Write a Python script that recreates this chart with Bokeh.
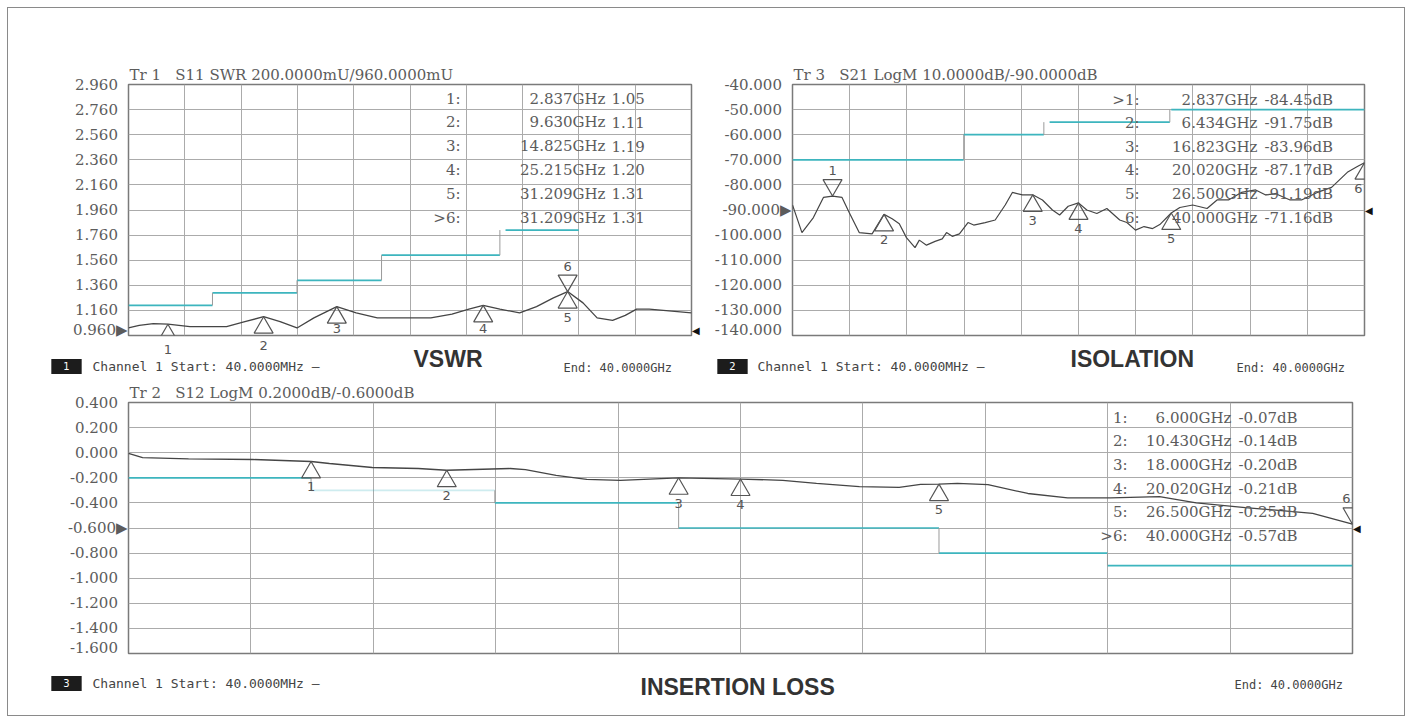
import numpy as np
from bokeh.plotting import figure
from bokeh.models import Range1d, FixedTicker, PrintfTickFormatter, Label, LinearAxis
from bokeh.layouts import column, row
from bokeh.embed import file_html
from bokeh.resources import INLINE

# ---------------- data ----------------
F_START, F_STOP = 0.04, 40.0

# Panel 1: VSWR (S11)
vswr_ticks = [2.96, 2.76, 2.56, 2.36, 2.16, 1.96, 1.76, 1.56, 1.36, 1.16, 0.96]
vswr_f = [0.04, 0.8, 1.8, 2.837, 4.4, 5.6, 7.0, 8.3, 9.63, 10.8, 12.0, 13.2, 14.825, 16.2,
          17.7, 19.5, 21.5, 23.0, 24.2, 25.215, 26.4, 27.8, 29.0, 30.2, 31.209, 32.3, 33.3,
          34.4, 35.3, 36.1, 37.0, 38.0, 39.0, 40.0]
vswr_v = [1.02, 1.04, 1.055, 1.05, 1.03, 1.03, 1.03, 1.07, 1.11, 1.07, 1.02, 1.10, 1.19, 1.14,
          1.10, 1.10, 1.10, 1.13, 1.17, 1.20, 1.17, 1.14, 1.19, 1.26, 1.31, 1.22, 1.10,
          1.08, 1.12, 1.17, 1.17, 1.16, 1.15, 1.14]
vswr_lim_f0 = [0.04, 6.0, 12.0, 18.0, 26.8]
vswr_lim_f1 = [6.0, 12.0, 18.0, 26.4, 32.0]
vswr_lim_v = [1.2, 1.3, 1.4, 1.6, 1.8]
vswr_mk_name = ["1:", "2:", "3:", "4:", "5:", ">6:"]
vswr_mk_f = [2.837, 9.630, 14.825, 25.215, 31.209, 31.209]
vswr_mk_v = [1.05, 1.11, 1.19, 1.20, 1.31, 1.31]
vswr_active = 5
vswr_ref = 0.96

# Panel 2: Isolation (S21)
iso_ticks = [-40.0, -50.0, -60.0, -70.0, -80.0, -90.0, -100.0, -110.0, -120.0, -130.0, -140.0]
iso_f = [0.04, 0.7, 1.5, 2.2, 2.837, 3.5, 4.0, 4.7, 5.6, 6.434, 7.0, 7.5, 8.0, 8.6, 8.9,
         9.4, 10.0, 10.5, 10.8, 11.2, 11.7, 12.3, 12.7, 13.5, 14.2, 14.9, 15.4, 16.1, 16.823,
         17.5, 18.2, 18.7, 19.3, 20.02, 20.6, 21.3, 22.0, 22.9, 23.4, 24.0, 24.6, 25.2, 25.7,
         26.5, 27.1, 28.0, 29.0, 29.7, 30.5, 31.4, 32.4, 33.1, 33.8, 34.8, 35.6, 36.7, 37.7,
         38.8, 39.5, 40.0]
iso_v = [-88, -99, -93, -85, -84.45, -85, -91, -99, -99.5, -91.75, -93.5, -95.5, -101, -105,
         -102, -104, -102.5, -101.5, -99, -100.5, -99.5, -95, -96, -95, -94, -88, -83, -84,
         -83.96, -86, -90, -92, -88.5, -87.17, -90, -91.4, -89.4, -94, -95, -98, -96.6, -97.4,
         -95.8, -91.19, -89, -88, -89.4, -86, -86, -83, -82, -84, -83.5, -86, -86, -83, -81,
         -75, -72.7, -71.16]
iso_lim_f0 = [0.04, 12.0, 18.0, 26.5]
iso_lim_f1 = [12.0, 17.6, 26.4, 40.0]
iso_lim_v = [-70, -60, -55, -50]
iso_mk_name = [">1:", "2:", "3:", "4:", "5:", "6:"]
iso_mk_f = [2.837, 6.434, 16.823, 20.020, 26.500, 40.000]
iso_mk_v = [-84.45, -91.75, -83.96, -87.17, -91.19, -71.16]
iso_active = 0
iso_ref = -90.0

# Panel 3: Insertion loss (S12)
il_ticks = [0.4, 0.2, 0.0, -0.2, -0.4, -0.6, -0.8, -1.0, -1.2, -1.4, -1.6]
il_f = [0.04, 0.5, 2.0, 4.1, 6.0, 6.6, 8.0, 9.5, 10.43, 12.5, 13.0, 14.0, 15.0, 16.1, 18.0,
        20.02, 21.4, 22.5, 23.9, 25.2, 25.9, 26.5, 27.1, 28.1, 29.4, 30.7, 32.1, 33.7, 34.9,
        36.5, 38.7, 40.0]
il_v = [-0.005, -0.04, -0.05, -0.054, -0.07, -0.086, -0.118, -0.126, -0.14, -0.126, -0.135,
        -0.18, -0.213, -0.22, -0.20, -0.21, -0.22, -0.245, -0.27, -0.277, -0.253, -0.25,
        -0.245, -0.255, -0.325, -0.36, -0.36, -0.35, -0.40, -0.437, -0.484, -0.57]
il_lim_f0 = [0.04, 6.0, 12.0, 18.0, 26.5, 32.0]
il_lim_f1 = [6.0, 12.0, 18.0, 26.5, 32.0, 40.0]
il_lim_v = [-0.2, -0.3, -0.4, -0.6, -0.8, -0.9]
il_lim_alpha = [1.0, 0.25, 1.0, 1.0, 1.0, 1.0]
il_mk_name = ["1:", "2:", "3:", "4:", "5:", ">6:"]
il_mk_f = [6.000, 10.430, 18.000, 20.020, 26.500, 40.000]
il_mk_v = [-0.07, -0.14, -0.20, -0.21, -0.25, -0.57]
il_active = 5
il_ref = -0.6

# ---------------- style ----------------
SERIF = "DejaVu Serif"
SANS = "DejaVu Sans"
MONO = "DejaVu Sans Mono"
BOLD = "Liberation Sans"
GRID = "#ababab"
TXT = "#5c5c5c"
TRACE = "#454545"
LIMIT = "#3db5be"
MK = "#555555"
TRI = 19
TRI_H = TRI / 2 * np.sqrt(3)
TRI_C = 2 * TRI_H / 3
NB = "\u00a0"


def make_panel(g, fig_left, fig_top, fig_right, fig_bottom, ticks, ref, title):
    L, T, W, H, y0, y1 = g["L"], g["T"], g["W"], g["H"], g["y0"], g["y1"]
    p = figure(frame_width=W, frame_height=H,
               x_range=Range1d(F_START, F_STOP), y_range=Range1d(y0, y1),
               toolbar_location=None, tools="", output_backend="svg", title=title,
               frame_align=False)
    p.min_border = 0
    p.min_border_left = L - fig_left
    p.min_border_top = T - fig_top
    p.min_border_right = fig_right - (L + W)
    p.min_border_bottom = fig_bottom - (T + H)
    p.title.align = "left"
    p.title.offset = 1
    p.title.standoff = 2
    p.title.text_font = SERIF
    p.title.text_font_size = "15px"
    p.title.text_font_style = "normal"
    p.title.text_color = TXT
    p.xaxis.visible = False
    p.xgrid.ticker = FixedTicker(ticks=list(np.linspace(F_START, F_STOP, 11)))
    p.ygrid.ticker = FixedTicker(ticks=ticks)
    p.grid.grid_line_color = GRID
    p.grid.grid_line_width = 1
    ax = p.yaxis[0]
    ax.ticker = FixedTicker(ticks=ticks)
    ax.formatter = PrintfTickFormatter(format="%.3f")
    ax.major_label_overrides = {t: (f"{t:.3f}\u25B6" if t == ref else f"{t:.3f}\u2007")
                                for t in ticks}
    ax.major_label_text_font = SERIF
    ax.major_label_text_font_size = "15px"
    ax.major_label_text_color = TXT
    ax.axis_line_color = None
    ax.major_tick_line_color = None
    ax.minor_tick_line_color = None
    ax.major_tick_out = 0
    ax.major_tick_in = 0
    ax.major_label_standoff = 1
    rax = LinearAxis(ticker=FixedTicker(ticks=[ref]), major_label_overrides={ref: "\u25C0"},
                     axis_line_color=None, major_tick_line_color=None,
                     minor_tick_line_color=None, major_tick_out=0, major_tick_in=0,
                     major_label_standoff=0, major_label_text_font_size="10px",
                     major_label_text_color="#111111")
    p.add_layout(rax, "right")
    p.outline_line_color = "#7a7a7a"
    p.outline_line_width = 1.5
    p.background_fill_color = "white"
    p.border_fill_color = "white"
    g["ppu"] = H / (y1 - y0)
    g["x0"], g["x1"] = F_START, F_STOP
    return p


def make_strip(x0, x1, y0, y1):
    f = figure(width=x1 - x0, height=y1 - y0, x_range=Range1d(x0, x1),
               y_range=Range1d(y1, y0), toolbar_location=None, tools="",
               output_backend="svg", frame_align=False)
    f.min_border = 0
    f.axis.visible = False
    f.grid.visible = False
    f.outline_line_color = None
    f.background_fill_color = "white"
    f.border_fill_color = "white"
    return f


def label(p, x, y, text, size, color, font, align="left", style="normal", **kw):
    p.add_layout(Label(x=x, y=y, text=text, text_font=font, text_font_size=f"{size}px",
                       text_color=color, text_align=align, text_baseline="middle",
                       text_font_style=style, **kw))


def px2data(g, px, py):
    x = g["x0"] + (px - g["L"]) / g["W"] * (g["x1"] - g["x0"])
    y = g["y1"] - (py - g["T"]) / g["H"] * (g["y1"] - g["y0"])
    return x, y


def data2px(g, x, y):
    px = g["L"] + (x - g["x0"]) / (g["x1"] - g["x0"]) * g["W"]
    py = g["T"] + (g["y1"] - y) / (g["y1"] - g["y0"]) * g["H"]
    return px, py


def draw_limits(p, f0, f1, v, alpha=None):
    if alpha is None:
        alpha = [1.0] * len(v)
    p.segment(x0=f0, y0=v, x1=f1, y1=v, line_color=LIMIT, line_width=1.7, line_alpha=alpha)
    vx, vy0, vy1 = [], [], []
    for i in range(len(v) - 1):
        if abs(f1[i] - f0[i + 1]) < 0.6:
            vx.append(f1[i]); vy0.append(v[i]); vy1.append(v[i + 1])
    p.segment(x0=vx, y0=vy0, x1=vx, y1=vy1, line_color="#9a9a9a", line_width=1)


def draw_markers(p, g, strip, strip_top, mk_f, mk_v, active):
    ppu = g["ppu"]
    up_f = [f for i, f in enumerate(mk_f) if i != active]
    up_c = [v - TRI_C / ppu for i, v in enumerate(mk_v) if i != active]
    p.scatter(x=up_f, y=up_c, marker="triangle", size=TRI, fill_alpha=0,
              line_color=MK, line_width=1.2)
    p.scatter(x=[mk_f[active]], y=[mk_v[active] + TRI_C / ppu], marker="inverted_triangle",
              size=TRI, fill_alpha=0, line_color=MK, line_width=1.2)
    bottom = g["T"] + g["H"]
    off = TRI_H + 9
    for i, (f, v) in enumerate(zip(mk_f, mk_v)):
        px, py = data2px(g, f, v)
        c = py - off if i == active else py + off
        xoff = -6 if f >= F_STOP - 1e-9 else 0
        if c <= bottom - 7:
            x, y = px2data(g, px, c)
            label(p, x, y, str(i + 1), 13, MK, SANS, align="center", x_offset=xoff)
        elif c < bottom:
            x, y = px2data(g, px, bottom - 7)
            label(p, x, y, str(i + 1), 13, MK, SANS, align="center", x_offset=xoff)
        else:
            label(strip, px, max(c, strip_top + 7), str(i + 1), 13, MK, SANS, align="center")


def draw_table(p, g, names, fs, vs, unit, id_x, f_x, v_x, row_y, row_dy):
    for i, (n, f, v) in enumerate(zip(names, fs, vs)):
        py = row_y + i * row_dy
        x, y = px2data(g, id_x, py)
        label(p, x, y, n, 15, TXT, SERIF, align="right")
        x, y = px2data(g, f_x, py)
        label(p, x, y, f"{f:.3f}GHz", 15, TXT, SERIF, align="right")
        x, y = px2data(g, v_x, py)
        label(p, x, y, f"{v:.2f}{unit}", 15, TXT, SERIF, align="left")


def draw_footer(f, box_x, num, ch_x, name, name_x, end_x, py, name_dy):
    label(f, box_x, py, "\u2003" + num + "\u2003", 10, "white", SANS, align="center",
          background_fill_color="#1c1c1c", padding=2)
    label(f, ch_x, py, "Channel 1  Start: 40.0000MHz \u2014", 13, "#444444", MONO)
    label(f, name_x, py + name_dy, name, 23, "#333333", BOLD, style="bold")
    label(f, end_x, py + 1, "End: 40.0000GHz", 12, "#444444", MONO)


# ---------------- panel 1: VSWR ----------------
G1 = dict(L=128, T=84, W=563, H=251, y0=0.96, y1=2.96)
p1 = make_panel(G1, 8, 8, 700, 338, vswr_ticks, vswr_ref,
                f"Tr 1{NB}{NB} S11 SWR 200.0000mU/960.0000mU")
s1 = make_strip(8, 700, 338, 380)
draw_limits(p1, vswr_lim_f0, vswr_lim_f1, vswr_lim_v)
p1.line(vswr_f, vswr_v, line_color=TRACE, line_width=1.3)
draw_markers(p1, G1, s1, 338, vswr_mk_f, vswr_mk_v, vswr_active)
draw_table(p1, G1, vswr_mk_name, vswr_mk_f, vswr_mk_v, "", 460, 605, 611, 98, 23.8)
draw_footer(s1, 66, "1", 92, "VSWR", 413, 563, 366, -8)

# ---------------- panel 2: ISOLATION ----------------
G2 = dict(L=790, T=84, W=572, H=251, y0=-140.0, y1=-40.0)
p2 = make_panel(G2, 700, 8, 1402, 338, iso_ticks, iso_ref,
                f"Tr 3{NB}{NB} S21 LogM 10.0000dB/-90.0000dB")
s2 = make_strip(700, 1402, 338, 380)
draw_limits(p2, iso_lim_f0, iso_lim_f1, iso_lim_v)
p2.line(iso_f, iso_v, line_color=TRACE, line_width=1.2)
draw_markers(p2, G2, s2, 338, iso_mk_f, iso_mk_v, iso_active)
draw_table(p2, G2, iso_mk_name, iso_mk_f, iso_mk_v, "dB", 1137, 1255, 1262, 99, 23.6)
draw_footer(s2, 730, "2", 755, "ISOLATION", 1068, 1234, 366, -8)

# ---------------- panel 3: INSERTION LOSS ----------------
G3 = dict(L=128, T=401, W=1224, H=251, y0=-1.6, y1=0.4)
p3 = make_panel(G3, 8, 380, 1402, 655, il_ticks, il_ref,
                f"Tr 2{NB}{NB} S12 LogM 0.2000dB/-0.6000dB")
s3 = make_strip(8, 1402, 655, 714)
draw_limits(p3, il_lim_f0, il_lim_f1, il_lim_v, il_lim_alpha)
p3.line(il_f, il_v, line_color=TRACE, line_width=1.3)
draw_markers(p3, G3, s3, 655, il_mk_f, il_mk_v, il_active)
draw_table(p3, G3, il_mk_name, il_mk_f, il_mk_v, "dB", 1127, 1231, 1238, 416, 23.7)
draw_footer(s3, 66, "3", 92, "INSERTION LOSS", 640, 1234, 682, 3)

layout = column(row(column(p1, s1), column(p2, s2)), p3, s3,
                margin=(8, 8, 8, 8), styles={"box-shadow": "0 0 0 1px #8a8a8a"})
open("out.html", "w").write(file_html(layout, INLINE))
